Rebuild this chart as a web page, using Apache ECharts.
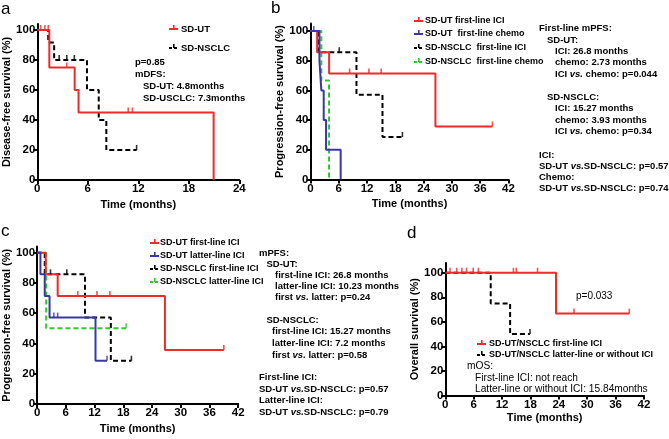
<!DOCTYPE html>
<html><head><meta charset="utf-8">
<script src="https://cdn.jsdelivr.net/npm/echarts@6/dist/echarts.min.js"></script>
<style>html,body{margin:0;padding:0;background:#fff}#c{width:669px;height:439px}</style>
</head><body><div id="c"></div>
<script>
// ---------- DATA ----------
const xTicks = [0, 6, 12, 18, 24, 30, 36, 42];
const yTicks = [0, 20, 40, 60, 80, 100];

// Panel a (disease-free survival)
const aUT_t = [0, 1.43, 4.44, 4.9, 20.95];
const aUT_s = [100, 75, 60, 45, 0];
const aUT_ct = [0.4, 0.9, 1.3, 3.5, 10.8, 11.3];
const aUT_cs = [100, 100, 100, 75, 45, 45];
const aNS_t = [0, 1.3, 2.0, 5.9, 7.3, 8.2, 11.8];
const aNS_s = [100, 91.7, 80, 60, 40, 20, 20];
const aNS_ct = [2.6, 3.5, 4.4, 11.8];
const aNS_cs = [80, 80, 80, 20];

// Panel b (PFS first-line)
const bUTici_t = [0, 1.4, 3.95, 26.5, 38.6];
const bUTici_s = [100, 85.7, 71.4, 35.7, 35.7];
const bUTici_ct = [8.3, 12.4, 15.0, 38.6];
const bUTici_cs = [71.4, 71.4, 71.4, 35.7];
const bUTchemo_t = [0, 1.9, 2.3, 2.8, 3.3, 6.4];
const bUTchemo_s = [100, 80, 60, 40, 20, 0];
const bUTchemo_ct = [0.7];
const bUTchemo_cs = [100];
const bNSici_t = [0, 1.6, 9.75, 15.27, 19.5];
const bNSici_s = [100, 85.7, 57.1, 28.6, 28.6];
const bNSici_ct = [6.1, 19.5];
const bNSici_cs = [85.7, 28.6];
const bNSchemo_t = [0, 2.3, 3.93];
const bNSchemo_s = [100, 66.7, 0];

// Panel c (PFS first vs latter line ICI)
const cUTfirst_t = [0, 1.8, 4.3, 26.7, 39];
const cUTfirst_s = [100, 85.7, 71.4, 35.7, 35.7];
const cUTfirst_ct = [8.5, 12.5, 15.2, 39];
const cUTfirst_cs = [71.4, 71.4, 71.4, 35.7];
const cUTlatter_t = [0, 0.7, 1.6, 2.6, 12.2, 14.6];
const cUTlatter_s = [100, 85.7, 71.4, 57.1, 28.6, 28.6];
const cUTlatter_ct = [3.5, 4.3, 14.6];
const cUTlatter_cs = [57.1, 57.1, 28.6];
const cNSfirst_t = [0, 1.6, 10.0, 15.4, 19.7];
const cNSfirst_s = [100, 85.7, 57.1, 28.6, 28.6];
const cNSfirst_ct = [2.8, 6.2, 19.7];
const cNSfirst_cs = [85.7, 85.7, 28.6];
const cNSlatter_t = [0, 1.9, 18.6];
const cNSlatter_s = [100, 50, 50];
const cNSlatter_ct = [18.6];
const cNSlatter_cs = [50];

// Panel d (overall survival)
const dFirst_t = [0, 23.4, 38.9];
const dFirst_s = [100, 66.7, 66.7];
const dFirst_ct = [1.0, 2.4, 3.5, 4.5, 5.9, 7.0, 14.4, 15.0, 19.5, 27.2, 38.9];
const dFirst_cs = [100, 100, 100, 100, 100, 100, 100, 100, 100, 66.7, 66.7];
const dLatter_t = [0, 9.6, 13.7, 17.9];
const dLatter_s = [100, 75, 50, 50];
const dLatter_ct = [17.9];
const dLatter_cs = [50];

// ---------- STYLE ----------
const F = '"Liberation Sans", Arial, sans-serif';
const RED = '#ee2a2a', BLUE = '#3838a8', GREEN = '#2fc82f', BLACK = '#000';
const zip = (t, s) => t.map((v, i) => [v, s[i]]);

const grids = [
  {left: 37.3, top: 24, width: 202, height: 156},
  {left: 310.5, top: 23.6, width: 198, height: 155.9},
  {left: 36.7, top: 246.6, width: 201.5, height: 157.4},
  {left: 445.3, top: 262.9, width: 198.7, height: 132.6}
];
const xMax = [24, 42, 42, 42];
const yMax = [104, 105, 104, 108];
const yNames = ['Disease-free survival (%)', 'Progression-free survival (%)', 'Progression-free survival (%)', 'Overall survival (%)'];
const yGaps = [20, 20, 18, 20];
const xGaps = [19, 19, 19, 17];

const lbl = {color: '#000', fontWeight: 'bold', fontSize: 11.5, fontFamily: F};
const xAxes = grids.map((g, i) => ({
  type: 'value', gridIndex: i, min: 0, max: xMax[i], interval: 6,
  axisLine: {show: true, onZero: false, lineStyle: {color: '#000', width: 2}},
  axisTick: {show: true, length: 4, lineStyle: {color: '#000', width: 2},
             customValues: xTicks.filter(v => v <= xMax[i])},
  axisLabel: Object.assign({margin: 3, customValues: xTicks.filter(v => v <= xMax[i])}, lbl),
  splitLine: {show: false},
  name: 'Time (months)', nameLocation: 'middle', nameGap: xGaps[i],
  nameTextStyle: {color: '#000', fontWeight: 'bold', fontSize: 11, fontFamily: F}
}));
const yAxes = grids.map((g, i) => ({
  type: 'value', gridIndex: i, min: 0, max: yMax[i], interval: 20,
  axisLine: {show: true, onZero: false, lineStyle: {color: '#000', width: 2}},
  axisTick: {show: true, length: 4, lineStyle: {color: '#000', width: 2}, customValues: yTicks},
  axisLabel: Object.assign({margin: 2, customValues: yTicks}, lbl),
  splitLine: {show: false},
  name: yNames[i], nameLocation: 'middle', nameGap: yGaps[i],
  nameTextStyle: {color: '#000', fontWeight: 'bold', fontSize: 11, fontFamily: F}
}));

const series = [];
function curve(gi, t, s, color, dashed) {
  series.push({type: 'line', xAxisIndex: gi, yAxisIndex: gi, step: 'end', symbol: 'none',
    data: zip(t, s), z: dashed ? 3 : 4,
    lineStyle: {color: color, width: 2, type: dashed ? [5, 3] : 'solid'}});
}
function cens(gi, t, s, color) {
  series.push({type: 'scatter', xAxisIndex: gi, yAxisIndex: gi, symbol: 'rect',
    symbolSize: [1.6, 5], symbolOffset: [0, -2.5], data: zip(t, s), z: 5,
    itemStyle: {color: color}});
}
curve(0, aNS_t, aNS_s, BLACK, true); cens(0, aNS_ct, aNS_cs, BLACK);
curve(0, aUT_t, aUT_s, RED, false); cens(0, aUT_ct, aUT_cs, RED);

curve(1, bNSici_t, bNSici_s, BLACK, true); cens(1, bNSici_ct, bNSici_cs, BLACK);
curve(1, bNSchemo_t, bNSchemo_s, GREEN, true);
curve(1, bUTici_t, bUTici_s, RED, false); cens(1, bUTici_ct, bUTici_cs, RED);
curve(1, bUTchemo_t, bUTchemo_s, BLUE, false); cens(1, bUTchemo_ct, bUTchemo_cs, BLUE);

curve(2, cNSfirst_t, cNSfirst_s, BLACK, true); cens(2, cNSfirst_ct, cNSfirst_cs, BLACK);
curve(2, cNSlatter_t, cNSlatter_s, GREEN, true); cens(2, cNSlatter_ct, cNSlatter_cs, GREEN);
curve(2, cUTfirst_t, cUTfirst_s, RED, false); cens(2, cUTfirst_ct, cUTfirst_cs, RED);
curve(2, cUTlatter_t, cUTlatter_s, BLUE, false); cens(2, cUTlatter_ct, cUTlatter_cs, BLUE);

curve(3, dLatter_t, dLatter_s, BLACK, true); cens(3, dLatter_ct, dLatter_cs, BLACK);
curve(3, dFirst_t, dFirst_s, RED, false); cens(3, dFirst_ct, dFirst_cs, RED);

// ---------- TEXT / LEGENDS ----------
const G = [];
const AS = 9.5;
const rich = {i: {fontStyle: 'italic', fontWeight: 'bold', fontSize: AS, fontFamily: F, fill: '#000'}};
function T(x, y, text, size, weight, extra) {
  G.push({type: 'text', silent: true, style: Object.assign({
    text: text, x: x, y: y, fill: '#000', verticalAlign: 'middle', align: 'left',
    font: (weight || 'bold') + ' ' + (size || AS) + 'px ' + F, rich: rich
  }, extra || {})});
}
function icon(x, y, color, dashed) {
  G.push({type: 'line', silent: true, shape: {x1: x, y1: y, x2: x + 9, y2: y},
    style: {stroke: color, lineWidth: 2, lineDash: dashed ? [3, 2] : null}});
  G.push({type: 'rect', silent: true, shape: {x: x + 4, y: y - 4, width: 1.6, height: 4},
    style: {fill: color}});
}
// panel letters
T(1, 9, 'a', 17, 'normal');
T(271, 8, 'b', 17, 'normal');
T(1, 231, 'c', 17, 'normal');
T(407, 233, 'd', 17, 'normal');

// panel a
icon(169, 29, RED, false); T(181, 29, 'SD-UT', 9.5);
icon(169, 48, BLACK, true); T(181, 48, 'SD-NSCLC', 9.5);
T(135, 62, 'p=0.85');
T(135, 74, 'mDFS:');
T(143, 86, 'SD-UT: 4.8months');
T(143, 98, 'SD-USCLC: 7.3months');

// panel b
const bLeg = [['SD-UT first-line ICI', RED, false], ['SD-UT  first-line chemo', BLUE, false],
  ['SD-NSCLC  first-line ICI', BLACK, true], ['SD-NSCLC  first-line chemo', GREEN, true]];
[21, 34, 48, 62].forEach((y, i) => { icon(414, y, bLeg[i][1], bLeg[i][2]); T(425, y, bLeg[i][0], 9); });
T(539, 28, 'First-line mPFS:');
T(547, 40, 'SD-UT:');
T(555, 51, 'ICI: 26.8 months');
T(555, 62.5, 'chemo: 2.73 months');
T(555, 74, 'ICI {i|vs.} chemo: p=0.044');
T(547, 97, 'SD-NSCLC:');
T(555, 108.5, 'ICI: 15.27 months');
T(555, 120, 'chemo: 3.93 months');
T(555, 131, 'ICI {i|vs.} chemo: p=0.34');
T(539, 155, 'ICI:');
T(539, 166, 'SD-UT {i|vs.}SD-NSCLC: p=0.57');
T(539, 177, 'Chemo:');
T(539, 188.5, 'SD-UT {i|vs.}SD-NSCLC: p=0.74');

// panel c
const cLeg = [['SD-UT first-line ICI', RED, false], ['SD-UT latter-line ICI', BLUE, false],
  ['SD-NSCLC first-line ICI', BLACK, true], ['SD-NSCLC latter-line ICI', GREEN, true]];
[243, 256, 269, 282].forEach((y, i) => { icon(150, y, cLeg[i][1], cLeg[i][2]); T(160, y, cLeg[i][0], 9); });
T(259, 253, 'mPFS:');
T(266.5, 264, 'SD-UT:');
T(275, 275, 'first-line ICI: 26.8 months');
T(275, 286, 'latter-line ICI: 10.23 months');
T(275, 297.5, 'first {i|vs.} latter: p=0.24');
T(266.5, 320, 'SD-NSCLC:');
T(272, 331.5, 'first-line ICI: 15.27 months');
T(272, 343, 'latter-line ICI: 7.2 months');
T(272, 355, 'first {i|vs.} latter: p=0.58');
T(259, 377, 'First-line ICI:');
T(259, 389, 'SD-UT {i|vs.}SD-NSCLC: p=0.57');
T(259, 400.5, 'Latter-line ICI:');
T(259, 412, 'SD-UT {i|vs.}SD-NSCLC: p=0.79');

// panel d
T(576, 296, 'p=0.033', 10, 'normal');
icon(477, 344, RED, false); T(489, 344, 'SD-UT/NSCLC first-line ICI', 9);
icon(477, 355, BLACK, true); T(489, 355, 'SD-UT/NSCLC latter-line or without ICI', 9);
T(467, 366, 'mOS:', 10.2, 'normal');
T(475, 378, 'First-line ICI: not reach', 10.2, 'normal');
T(475, 389, 'Latter-line or without ICI: 15.84months', 10.2, 'normal');

const chart = echarts.init(document.getElementById('c'), null, {renderer: 'canvas'});
chart.setOption({
  animation: false,
  backgroundColor: '#fff',
  grid: grids,
  xAxis: xAxes,
  yAxis: yAxes,
  series: series,
  graphic: G
});
</script></body></html>
